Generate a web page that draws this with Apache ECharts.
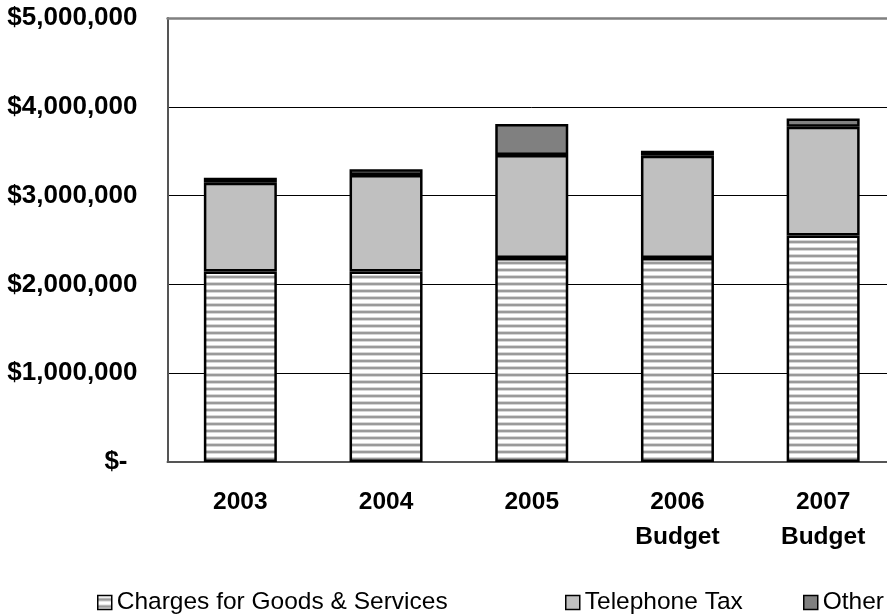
<!DOCTYPE html>
<html>
<head>
<meta charset="utf-8">
<script src="https://cdn.jsdelivr.net/npm/echarts@6/dist/echarts.min.js"></script>
<style>
  html, body { margin: 0; padding: 0; background: #fff; overflow: hidden; }
  /* the plot area continues a little past the right edge of the window */
  #chart { width: 896px; height: 615px; }
</style>
</head>
<body>
<div id="chart"></div>
<script>
// Revenue sources by year (US dollars)
const categories = ['2003', '2004', '2005', '2006\nBudget', '2007\nBudget'];
const chargesForGoods = [2146000, 2146000, 2296000, 2296000, 2551000];
const telephoneTax = [1000000, 1087000, 1161000, 1153000, 1224000];
const otherRevenue = [56000, 64000, 349000, 57000, 94000];
const yTicks = [0, 1000000, 2000000, 3000000, 4000000, 5000000];

const FONT = 'Liberation Sans, Arial, sans-serif';

// Horizontal stripe fill for the "Charges" series
function stripePattern() {
  const c = document.createElement('canvas');
  c.width = 8; c.height = 7;
  const ctx = c.getContext('2d');
  const rows = ['#ffffff', '#ffffff', '#d6d6d6', '#9a9a9a', '#9a9a9a', '#d6d6d6', '#ffffff'];
  rows.forEach((col, i) => { ctx.fillStyle = col; ctx.fillRect(0, i, 8, 1); });
  return { image: c, repeat: 'repeat' };
}

function money(v) {
  return '$' + v.toLocaleString('en-US');
}

const chart = echarts.init(document.getElementById('chart'), null, { renderer: 'canvas' });

const barStyle = (color) => ({
  color: color,
  borderColor: '#000',
  borderWidth: 2.5
});

const legendBase = {
  orient: 'horizontal',
  top: 590,
  padding: 0,
  itemWidth: 14,
  itemHeight: 14,
  icon: 'rect',
  itemStyle: { borderColor: '#000', borderWidth: 1.5 },
  textStyle: { fontFamily: FONT, fontSize: 24.5, color: '#000' }
};

chart.setOption({
  animation: false,
  backgroundColor: '#fff',
  grid: { left: 167.5, right: 0, top: 18, bottom: 153, containLabel: false },
  legend: [
    Object.assign({}, legendBase, { left: 97, data: ['Charges for Goods & Services'] }),
    Object.assign({}, legendBase, { left: 565, data: ['Telephone Tax'] }),
    Object.assign({}, legendBase, { left: 803, data: ['Other'] })
  ],
  xAxis: [{
    type: 'category',
    data: categories,
    axisLine: { show: true, lineStyle: { color: '#555', width: 2 } },
    axisTick: { show: false },
    axisLabel: {
      fontFamily: FONT, fontSize: 24.5, fontWeight: 'bold', color: '#000',
      margin: 23, lineHeight: 35, interval: 0
    }
  }, {
    type: 'category',
    position: 'top',
    data: categories,
    axisLine: { show: true, lineStyle: { color: '#808080', width: 2.5 } },
    axisTick: { show: false },
    axisLabel: { show: false }
  }],
  yAxis: {
    type: 'value',
    min: yTicks[0],
    max: yTicks[yTicks.length - 1],
    interval: yTicks[1] - yTicks[0],
    axisLine: { show: true, lineStyle: { color: '#555', width: 2 } },
    axisTick: { show: false },
    splitLine: { show: true, lineStyle: { color: '#000', width: 1 } },
    axisLabel: {
      fontFamily: FONT, fontSize: 26, fontWeight: 'bold', color: '#000', margin: 30,
      formatter: (v) => v === 0 ? '{z|$-}' : money(v),
      rich: { z: { fontFamily: FONT, fontSize: 26, fontWeight: 'bold', color: '#000', padding: [0, 10, 0, 0] } }
    }
  },
  series: [
    {
      name: 'Charges for Goods & Services', type: 'bar', stack: 'rev',
      barWidth: 73, data: chargesForGoods, itemStyle: barStyle(stripePattern())
    },
    {
      name: 'Telephone Tax', type: 'bar', stack: 'rev',
      barWidth: 73, data: telephoneTax, itemStyle: barStyle('#c0c0c0')
    },
    {
      name: 'Other', type: 'bar', stack: 'rev',
      barWidth: 73, data: otherRevenue, itemStyle: barStyle('#808080')
    }
  ]
});
</script>
</body>
</html>
